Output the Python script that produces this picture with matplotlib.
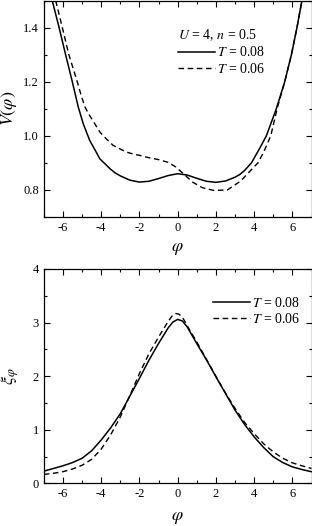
import matplotlib
matplotlib.use("Agg")
import matplotlib.pyplot as plt
from matplotlib.ticker import MultipleLocator

# --- data ---
# V(phi), T = 0.08
v_phi_08 = [-6.56, -6.2, -5.86, -5.51, -5.2, -4.94, -4.6, -4.3, -4.07, -3.75, -3.5, -3.25,
            -3.0, -2.5, -2.0, -1.5, -1.0, -0.5, 0.0, 0.5, 1.0, 1.5, 2.0, 2.5, 3.0, 3.25,
            3.5, 3.86, 4.3, 4.64, 5.16, 5.6, 5.95, 6.24, 6.5]
v_val_08 = [1.5, 1.4, 1.3, 1.2, 1.107, 1.045, 0.983, 0.945, 0.915, 0.893, 0.876, 0.862,
            0.852, 0.836, 0.829, 0.832, 0.842, 0.853, 0.86, 0.855, 0.843, 0.832, 0.828,
            0.833, 0.847, 0.857, 0.872, 0.9, 0.955, 1.0, 1.1, 1.2, 1.3, 1.4, 1.5]
# V(phi), T = 0.06
v_phi_06 = [-6.38, -6.03, -5.69, -5.25, -5.05, -4.85, -4.65, -4.45, -4.07, -3.75, -3.38,
            -3.0, -2.68, -2.3, -2.0, -1.63, -1.0, -0.5, -0.1, 0.3, 0.8, 1.3, 1.9, 2.6,
            3.3, 3.9, 4.2, 4.5, 4.87, 5.2, 5.6, 5.95, 6.24, 6.5]
v_val_06 = [1.5, 1.4, 1.3, 1.2, 1.15, 1.107, 1.08, 1.058, 1.014, 0.99, 0.965, 0.951,
            0.94, 0.932, 0.928, 0.921, 0.912, 0.902, 0.885, 0.86, 0.828, 0.808, 0.798,
            0.800, 0.833, 0.878, 0.9, 0.94, 1.0, 1.1, 1.2, 1.3, 1.4, 1.5]

# xi_phi
xi_phi_08 = [-7, -6.5, -6, -5.5, -5, -4.5, -4, -3.5, -3, -2.5, -2, -1.5, -1, -0.5, -0.25,
             0, 0.25, 0.5, 1, 1.5, 2, 2.5, 3, 3.5, 4, 4.5, 5, 5.5, 6, 6.5, 7]
xi_val_08 = [0.23, 0.28, 0.33, 0.39, 0.47, 0.61, 0.81, 1.04, 1.30, 1.63, 1.96, 2.30, 2.61,
             2.90, 3.01, 3.06, 3.03, 2.92, 2.61, 2.31, 1.99, 1.68, 1.37, 1.10, 0.87, 0.67,
             0.50, 0.39, 0.31, 0.26, 0.22]
xi_phi_06 = [-7, -6.5, -6, -5.5, -5, -4.5, -4, -3.5, -3, -2.5, -2, -1.5, -1, -0.5, -0.3,
             -0.1, 0.05, 0.2, 0.35, 0.5, 1, 1.5, 2, 2.5, 3, 3.5, 4, 4.5, 5, 5.5, 6, 6.5, 7]
xi_val_06 = [0.17, 0.19, 0.22, 0.27, 0.34, 0.45, 0.64, 0.91, 1.24, 1.64, 2.05, 2.42, 2.73,
             3.02, 3.12, 3.17, 3.16, 3.12, 3.04, 2.94, 2.64, 2.32, 2.0, 1.69, 1.40, 1.14,
             0.93, 0.74, 0.59, 0.47, 0.385, 0.33, 0.28]

plt.rcParams["font.family"] = ["Liberation Serif", "DejaVu Serif"]
plt.rcParams["mathtext.fontset"] = "stix"
plt.rcParams["axes.unicode_minus"] = False
plt.rcParams["axes.linewidth"] = 0.9

fig = plt.figure(figsize=(3.12, 5.26), dpi=100)
ax1 = fig.add_axes([0.1404, 0.5875, 0.858, 0.4115])
ax2 = fig.add_axes([0.1404, 0.0808, 0.858, 0.4078])

dash = (0, (4, 2.6))

ax1.plot(v_phi_08, v_val_08, color="black", lw=1.1, label=r"$T$ = 0.08")
ax1.plot(v_phi_06, v_val_06, color="black", lw=1.0, ls=dash, label=r"$T$ = 0.06")
ax1.set_xlim(-7, 7)
ax1.set_ylim(0.7, 1.5)
ax1.yaxis.set_major_locator(MultipleLocator(0.2))
ax1.yaxis.set_minor_locator(MultipleLocator(0.1))
ax1.set_ylabel(r"$V(\varphi)$", fontsize=13)
ax1.yaxis.set_label_coords(-0.092, 0.5)
ax1.set_xlabel(r"$\varphi$", fontsize=13)
ax1.xaxis.set_label_coords(0.5, -0.105)
ax1.legend(title=r"$U$ = 4, $n$ = 0.5", frameon=False, loc="upper left",
           bbox_to_anchor=(0.48, 0.9), fontsize=10, title_fontsize=10,
           handlelength=2.7, handletextpad=0.1, labelspacing=0.15,
           alignment="left", borderaxespad=0.0)

ax2.plot(xi_phi_08, xi_val_08, color="black", lw=1.1, label=r"$T$ = 0.08")
ax2.plot(xi_phi_06, xi_val_06, color="black", lw=1.0, ls=dash, label=r"$T$ = 0.06")
ax2.set_xlim(-7, 7)
ax2.set_ylim(0, 4)
ax2.yaxis.set_major_locator(MultipleLocator(1))
ax2.yaxis.set_minor_locator(MultipleLocator(0.5))
ax2.set_ylabel(r"$\xi_{\varphi}$", fontsize=13)
ax2.yaxis.set_label_coords(-0.085, 0.5)
ax2.set_xlabel(r"$\varphi$", fontsize=13)
ax2.xaxis.set_label_coords(0.5, -0.12)
ax2.legend(frameon=False, loc="upper left", bbox_to_anchor=(0.61, 0.9), fontsize=10,
           handlelength=2.7, handletextpad=0.1, labelspacing=0.15, borderaxespad=0.0)

for ax in (ax1, ax2):
    ax.xaxis.set_major_locator(MultipleLocator(2))
    ax.xaxis.set_minor_locator(MultipleLocator(1))
    ax.tick_params(which="both", direction="in", top=True, right=True, labelsize=9)
    ax.tick_params(which="major", length=4.5, width=0.8)
    ax.tick_params(which="minor", length=2.5, width=0.8)

fig.savefig("out.png", dpi=100)
